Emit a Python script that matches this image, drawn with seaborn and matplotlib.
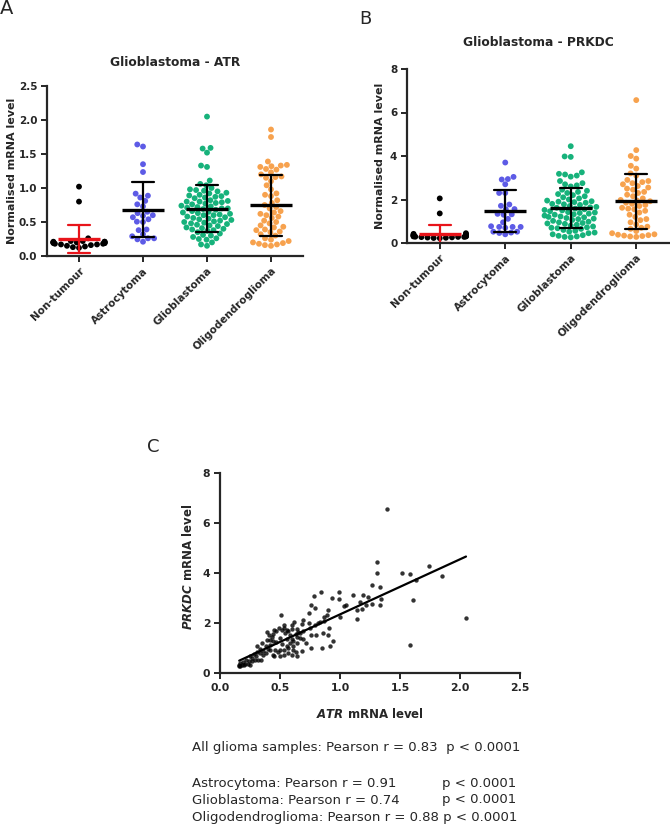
import warnings
warnings.filterwarnings("ignore")
import numpy as np
import pandas as pd
import matplotlib
matplotlib.use("Agg")
import matplotlib.pyplot as plt
import seaborn as sns

# ---------------- data ----------------
categories = ["Non-tumour", "Astrocytoma", "Glioblastoma", "Oligodendroglioma"]

# Panel A: ATR normalised mRNA level
atr_nontumour = [1.02, 0.80, 0.26, 0.22, 0.22, 0.21, 0.21, 0.21, 0.20, 0.20, 0.20, 0.20,
                 0.19, 0.19, 0.19, 0.18, 0.18, 0.17, 0.17, 0.16, 0.15, 0.14, 0.13, 0.12]
atr_astro = [1.61, 1.64, 1.35, 1.235, 0.887, 0.917, 0.81, 0.86, 0.73, 0.76, 0.59, 0.65, 0.63,
             0.57, 0.60, 0.54, 0.50, 0.505, 0.39, 0.38, 0.29, 0.26, 0.21, 0.245, 0.26, 0.32]
atr_gbm = [2.05,
           1.59, 1.58, 1.52,
           1.33, 1.31,
           1.11, 1.06, 1.04,
           1.00, 0.98, 0.97, 0.96, 0.95, 0.93, 0.92,
           0.90, 0.89, 0.88, 0.87, 0.86, 0.85,
           0.82, 0.81, 0.80, 0.80, 0.79, 0.78, 0.77, 0.76,
           0.74, 0.73, 0.72, 0.71, 0.70, 0.70, 0.69, 0.68,
           0.66, 0.65, 0.64, 0.63, 0.62, 0.61, 0.60, 0.60,
           0.58, 0.57, 0.56, 0.55, 0.54, 0.53, 0.52, 0.51,
           0.50, 0.49, 0.48, 0.47, 0.46, 0.45, 0.44,
           0.42, 0.41, 0.40, 0.39, 0.38, 0.37,
           0.35, 0.33, 0.31, 0.30,
           0.28, 0.26, 0.25, 0.24,
           0.20, 0.17, 0.15]
atr_oligo = [1.86, 1.75,
             1.39, 1.34, 1.33, 1.32, 1.31, 1.28, 1.27,
             1.23, 1.20, 1.17, 1.16, 1.15, 1.10,
             1.04, 0.98, 0.92, 0.90, 0.88,
             0.82, 0.78, 0.75, 0.72, 0.70,
             0.66, 0.64, 0.62, 0.60, 0.58, 0.56,
             0.52, 0.50, 0.48, 0.45, 0.43, 0.42,
             0.39, 0.38, 0.36, 0.35, 0.32, 0.30,
             0.26, 0.24, 0.22, 0.20, 0.19, 0.18, 0.17, 0.16, 0.15]

# Panel B: PRKDC normalised mRNA level
prkdc_nontumour = [2.05, 1.36, 0.45, 0.42, 0.40, 0.38, 0.37, 0.36, 0.35, 0.34, 0.33, 0.32,
                   0.31, 0.30, 0.30, 0.29, 0.28, 0.28, 0.27, 0.26, 0.25, 0.24, 0.23, 0.22]
prkdc_astro = [3.70, 3.04, 2.92, 2.94, 2.70, 2.30, 2.30, 1.77, 1.71, 1.56, 1.55, 1.34, 1.30,
               1.32, 1.11, 0.95, 0.74, 0.74, 0.77, 0.74, 0.70, 0.52, 0.46, 0.52, 0.48, 0.40]
prkdc_gbm = [4.45,
             3.98, 3.96,
             3.25, 3.18, 3.15, 3.10, 3.05,
             2.85, 2.75, 2.70, 2.65, 2.60,
             2.45, 2.40, 2.35, 2.30, 2.25, 2.20, 2.15,
             2.10, 2.05, 2.00, 1.95, 1.92, 1.90, 1.88, 1.85, 1.80, 1.78,
             1.75, 1.70, 1.66, 1.64, 1.62, 1.58, 1.55, 1.52, 1.50, 1.46,
             1.42, 1.40, 1.38, 1.35, 1.32, 1.30, 1.26, 1.22, 1.20, 1.18, 1.15, 1.12,
             1.10, 1.06, 1.02, 0.98, 0.95, 0.92, 0.90, 0.88,
             0.84, 0.80, 0.76, 0.72, 0.70, 0.68, 0.65,
             0.60, 0.56, 0.52, 0.48, 0.45,
             0.40, 0.36, 0.33, 0.30, 0.28, 0.26]
prkdc_oligo = [6.57,
               4.27, 4.00, 3.88,
               3.55, 3.42, 3.20, 3.10,
               2.90, 2.85, 2.80, 2.75, 2.70, 2.62, 2.55, 2.50,
               2.45, 2.35, 2.30, 2.22, 2.15, 2.05,
               1.98, 1.95, 1.92, 1.85, 1.80, 1.75, 1.70, 1.62, 1.58,
               1.55, 1.48, 1.40, 1.30, 1.20, 1.10,
               1.05, 0.95, 0.85, 0.75, 0.70, 0.65,
               0.55, 0.45, 0.40, 0.38, 0.36, 0.34, 0.32, 0.30, 0.28]

# Panel C: all glioma samples, ATR vs PRKDC
atr_c = [1.39, 1.31, 1.31, 1.27, 1.33, 1.34, 1.33, 1.27, 1.22, 1.19, 1.11, 1.17, 1.14, 1.18, 1.23, 1.14,
         1.52, 1.58, 1.63, 1.61, 1.74, 1.85, 1.58, 2.05,
         0.99, 0.99, 0.93, 1.05, 1.03, 1.00, 0.84, 0.78, 0.79, 0.76, 0.74, 0.90, 0.89, 0.87, 0.83,
         0.79, 0.87, 0.91, 0.90, 0.86, 0.80, 0.75, 0.69, 0.69, 0.68, 0.74, 0.76, 0.85, 0.92, 0.94,
         0.51, 0.53, 0.56, 0.60, 0.62, 0.60, 0.64, 0.65, 0.63, 0.58, 0.56, 0.60, 0.64, 0.67, 0.67,
         0.58, 0.61, 0.56, 0.52, 0.47, 0.44, 0.50, 0.54, 0.53, 0.49, 0.45, 0.44, 0.39, 0.39, 0.42,
         0.42, 0.38, 0.40, 0.36, 0.33, 0.30, 0.28, 0.25, 0.22, 0.19, 0.17, 0.16, 0.17, 0.20, 0.23,
         0.25, 0.27, 0.29, 0.32, 0.34, 0.31, 0.38, 0.44, 0.45, 0.46, 0.48, 0.50, 0.50, 0.53, 0.57,
         0.60, 0.61, 0.63, 0.64, 0.68, 0.72, 0.69, 0.76, 0.82, 0.43, 0.41, 0.33, 0.31, 0.35, 0.47,
         0.52, 0.57, 0.61, 0.64, 0.57, 0.53, 0.42, 0.36, 0.27, 0.24, 0.21, 0.18, 0.16]
prkdc_c = [6.57, 4.45, 4.00, 3.53, 3.44, 2.96, 2.71, 2.77, 2.72, 3.13, 3.13, 2.85, 2.52, 2.55, 3.04, 2.17,
           3.99, 3.96, 3.72, 2.93, 4.28, 3.89, 1.12, 2.19,
           3.23, 2.96, 2.99, 2.71, 2.68, 2.25, 3.23, 3.07, 2.61, 2.71, 2.39, 2.52, 2.33, 2.24, 2.04,
           1.91, 2.07, 1.79, 1.53, 1.60, 1.53, 1.81, 1.69, 2.13, 1.95, 2.01, 1.00, 1.00, 1.07, 1.29,
           2.31, 1.91, 1.73, 1.77, 2.05, 1.92, 1.76, 1.64, 1.56, 1.51, 1.36, 1.36, 1.44, 1.39, 1.60,
           1.20, 1.09, 1.07, 1.16, 1.24, 1.27, 1.41, 1.60, 1.80, 1.81, 1.73, 1.56, 1.64, 1.33, 1.31,
           1.13, 1.07, 0.96, 0.87, 0.80, 0.69, 0.76, 0.67, 0.53, 0.44, 0.40, 0.32, 0.27, 0.32, 0.36,
           0.33, 0.47, 0.53, 0.51, 0.51, 0.84, 0.80, 0.71, 0.67, 0.93, 0.84, 0.91, 0.67, 0.73, 0.80,
           0.73, 0.93, 0.84, 0.69, 0.87, 1.20, 1.37, 1.53, 2.00, 1.44, 1.53, 0.96, 1.07, 1.20, 1.67,
           1.73, 1.67, 1.27, 1.20, 1.00, 0.93, 0.91, 0.71, 0.60, 0.47, 0.37, 0.32, 0.27]

stats_lines = ["All glioma samples: Pearson r = 0.83  p < 0.0001",
               "Astrocytoma: Pearson r = 0.91",
               "Glioblastoma: Pearson r = 0.74",
               "Oligodendroglioma: Pearson r = 0.88 p < 0.0001"]
p_text = "p < 0.0001"

# ---------------- styling ----------------
sns.set_style("ticks")
plt.rcParams["font.family"] = ["DejaVu Sans"]
plt.rcParams["mathtext.fontset"] = "custom"
plt.rcParams["mathtext.it"] = "DejaVu Sans:italic:bold"
plt.rcParams["mathtext.rm"] = "DejaVu Sans:bold"

dot_palette = {"Non-tumour": "black", "Astrocytoma": "#5D5BE6",
               "Glioblastoma": "#17B27B", "Oligodendroglioma": "#F7A24E"}
bar_palette = {"Non-tumour": "#E8141A", "Astrocytoma": "black",
               "Glioblastoma": "black", "Oligodendroglioma": "black"}

W, H = 670, 840
fig = plt.figure(figsize=(W / 100, H / 100), dpi=100)


def px_axes(left, top, right, bottom):
    return fig.add_axes([left / W, 1 - bottom / H, (right - left) / W, (bottom - top) / H])


def long_df(lists):
    rows = []
    for cat, vals in zip(categories, lists):
        for v in vals:
            rows.append((cat, v))
    return pd.DataFrame(rows, columns=["group", "value"])


def style_axes(ax, labelsize=7.5):
    for s in ["top", "right"]:
        ax.spines[s].set_visible(False)
    for s in ["left", "bottom"]:
        ax.spines[s].set_linewidth(1.6)
    ax.tick_params(width=1.4, length=4, direction="out", labelsize=labelsize, pad=3)
    for lab in ax.get_yticklabels() + ax.get_xticklabels():
        lab.set_fontweight("bold")


def dot_panel(ax, df, ylim, yticks, fmt, title, title_xy):
    sns.swarmplot(data=df, x="group", y="value", hue="group", order=categories,
                  palette=dot_palette, size=4.2, legend=False, ax=ax, zorder=2)
    sns.pointplot(data=df, x="group", y="value", hue="group", order=categories,
                  palette=bar_palette, errorbar="sd", capsize=0.34, markers="_",
                  linestyle="none", markersize=30, markeredgewidth=2.4,
                  err_kws={"linewidth": 1.6}, legend=False, ax=ax)
    ax.set_xlim(-0.5, 3.5)
    ax.set_ylim(*ylim)
    ax.set_yticks(yticks)
    ax.set_yticklabels([fmt % t for t in yticks])
    ax.set_xlabel("")
    ax.set_ylabel("Normalised mRNA level", fontsize=8, fontweight="bold")
    ax.set_xticks(range(len(categories)))
    ax.set_xticklabels(categories, rotation=45, ha="right", rotation_mode="anchor",
                       fontsize=7.3)
    style_axes(ax)
    fig.text(title_xy[0] / W, 1 - title_xy[1] / H, title, ha="center", va="center",
             fontsize=8.8, fontweight="bold")


# Panel A
axA = px_axes(47, 86, 303, 256)
dot_panel(axA, long_df([atr_nontumour, atr_astro, atr_gbm, atr_oligo]),
          (0, 2.5), [0, 0.5, 1.0, 1.5, 2.0, 2.5], "%.1f", "Glioblastoma - ATR", (175, 62))
axA.yaxis.set_label_coords(-0.117, 0.5)

# Panel B
axB = px_axes(407, 69, 669, 243)
dot_panel(axB, long_df([prkdc_nontumour, prkdc_astro, prkdc_gbm, prkdc_oligo]),
          (0, 8), [0, 2, 4, 6, 8], "%d", "Glioblastoma - PRKDC", (538, 43))
axB.yaxis.set_label_coords(-0.084, 0.5)

# Panel C
axC = px_axes(220, 473, 520, 673)
sns.regplot(x=atr_c, y=prkdc_c, ci=None, ax=axC,
            scatter_kws={"s": 10, "color": "black", "linewidths": 0},
            line_kws={"color": "black", "linewidth": 1.6})
axC.set_xlim(0, 2.5)
axC.set_ylim(0, 8)
axC.set_xticks([0, 0.5, 1.0, 1.5, 2.0, 2.5])
axC.set_xticklabels(["%.1f" % t for t in [0, 0.5, 1.0, 1.5, 2.0, 2.5]])
axC.set_yticks([0, 2, 4, 6, 8])
axC.set_yticklabels(["0", "2", "4", "6", "8"])
axC.set_xlabel(r"$\mathit{ATR}$ mRNA level", fontsize=8.5, fontweight="bold")
axC.set_ylabel(r"$\mathit{PRKDC}$ mRNA level", fontsize=8.5, fontweight="bold")
axC.xaxis.set_label_coords(0.5, -0.168)
axC.yaxis.set_label_coords(-0.083, 0.53)
style_axes(axC, labelsize=7.8)

# panel letters
fig.text(0 / W, 1 - 9 / H, "A", fontsize=14, va="center", ha="left")
fig.text(359 / W, 1 - 19 / H, "B", fontsize=13, va="center", ha="left")
fig.text(147 / W, 1 - 447 / H, "C", fontsize=13, va="center", ha="left")

# stats text
ys = [747, 783, 800, 817]
for line, y in zip(stats_lines, ys):
    fig.text(192 / W, 1 - y / H, line, fontsize=9.5, ha="left", va="center")
for y in ys[1:3]:
    fig.text(442 / W, 1 - y / H, p_text, fontsize=9.5, ha="left", va="center")

fig.savefig("out.png", dpi=100)
